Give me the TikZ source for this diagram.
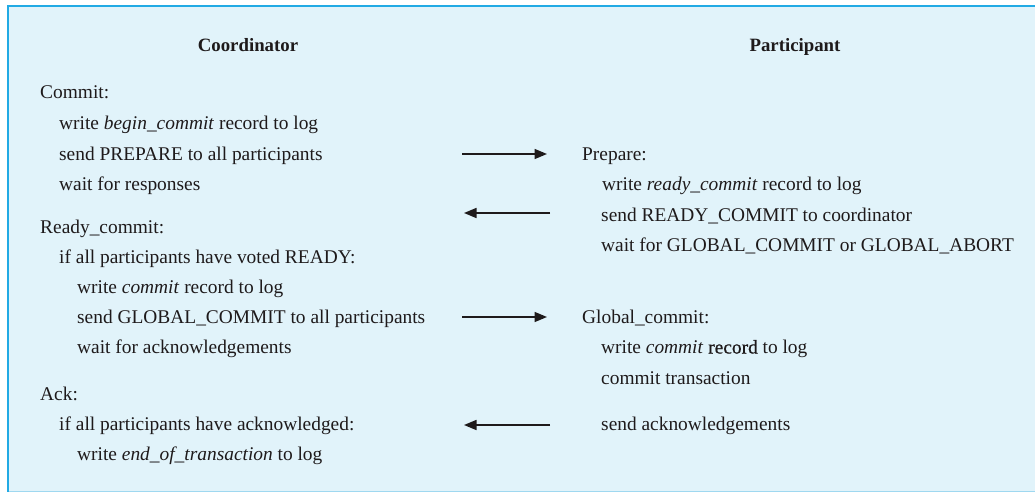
\documentclass[tikz,border=0pt]{standalone}
\usepackage{fontspec}
\setmainfont{Liberation Serif}
\newfontfamily\heavyrm[FakeBold=0.7]{Liberation Serif}
\usetikzlibrary{arrows.meta}
\definecolor{bgc}{HTML}{E1F3FA}
\definecolor{brd}{HTML}{22AAE4}
\definecolor{brdl}{HTML}{9FD8F0}
\definecolor{txtc}{HTML}{1E1A1B}
\newcommand{\bodyfont}{\fontsize{19.4pt}{23pt}\selectfont}
\newcommand{\headfont}{\fontsize{18.8pt}{22pt}\selectfont\bfseries}
\tikzset{
  line/.style={anchor=base west, inner sep=0pt, font=\bodyfont, text=txtc},
  head/.style={anchor=base, inner sep=0pt, font=\headfont, text=txtc},
  msg/.style={draw=txtc, line width=1.6pt, -{Triangle[length=12.5pt,width=10pt]}}
}
\begin{document}
\begin{tikzpicture}[x=1pt,y=-1pt]
\useasboundingbox (0,0) rectangle (1035,492);
\fill[bgc] (7,6) rectangle (1035,492);
\draw[brdl, line width=1pt] (7,491.5) -- (1035,491.5);
\draw[brd, line width=2pt] (8,492) -- (8,6.5) -- (1035,6.5);

\node[head] (hc) at (248,52) {Coordinator};
\node[head] (hp) at (795,52) {Participant};

% Coordinator
\node[line] (c1) at (40,99) {Commit:};
\node[line] (c2) at (59,129.5) {write \textit{begin\_commit} record to log};
\node[line] (c3) at (59,160) {send PREPARE to all participants};
\node[line] (c4) at (59,190.5) {wait for responses};
\node[line] (c5) at (40,233) {Ready\_commit:};
\node[line] (c6) at (59,263) {if all participants have voted READY:};
\node[line] (c7) at (77,293) {write \textit{commit} record to log};
\node[line] (c8) at (77,323) {send GLOBAL\_COMMIT to all participants};
\node[line] (c9) at (77,353.5) {wait for acknowledgements};
\node[line] (c10) at (40,400) {Ack:};
\node[line] (c11) at (59,430) {if all participants have acknowledged:};
\node[line] (c12) at (77,460) {write \textit{end\_of\_transaction} to log};

% Participant
\node[line] (p1) at (582,160) {Prepare:};
\node[line] (p2) at (602,190.5) {write \textit{ready\_commit} record to log};
\node[line] (p3) at (601,221) {send READY\_COMMIT to coordinator};
\node[line] (p4) at (601,251.5) {wait for GLOBAL\_COMMIT or GLOBAL\_ABORT};
\node[line] (p5) at (582,323) {Global\_commit:};
\node[line] (p6) at (601,353.5) {write \textit{commit} {\heavyrm record} to log};
\node[line] (p7) at (601,384) {commit transaction};
\node[line] (p8) at (601,430) {send acknowledgements};

% messages
\coordinate (a1s) at (462,154); \coordinate (a1e) at (547,154);
\coordinate (a2s) at (550,213); \coordinate (a2e) at (464,213);
\coordinate (a3s) at (462,317); \coordinate (a3e) at (547,317);
\coordinate (a4s) at (550,425); \coordinate (a4e) at (464,425);
\draw[msg] (a1s) -- (a1e);
\draw[msg] (a2s) -- (a2e);
\draw[msg] (a3s) -- (a3e);
\draw[msg] (a4s) -- (a4e);
\end{tikzpicture}
\end{document}
